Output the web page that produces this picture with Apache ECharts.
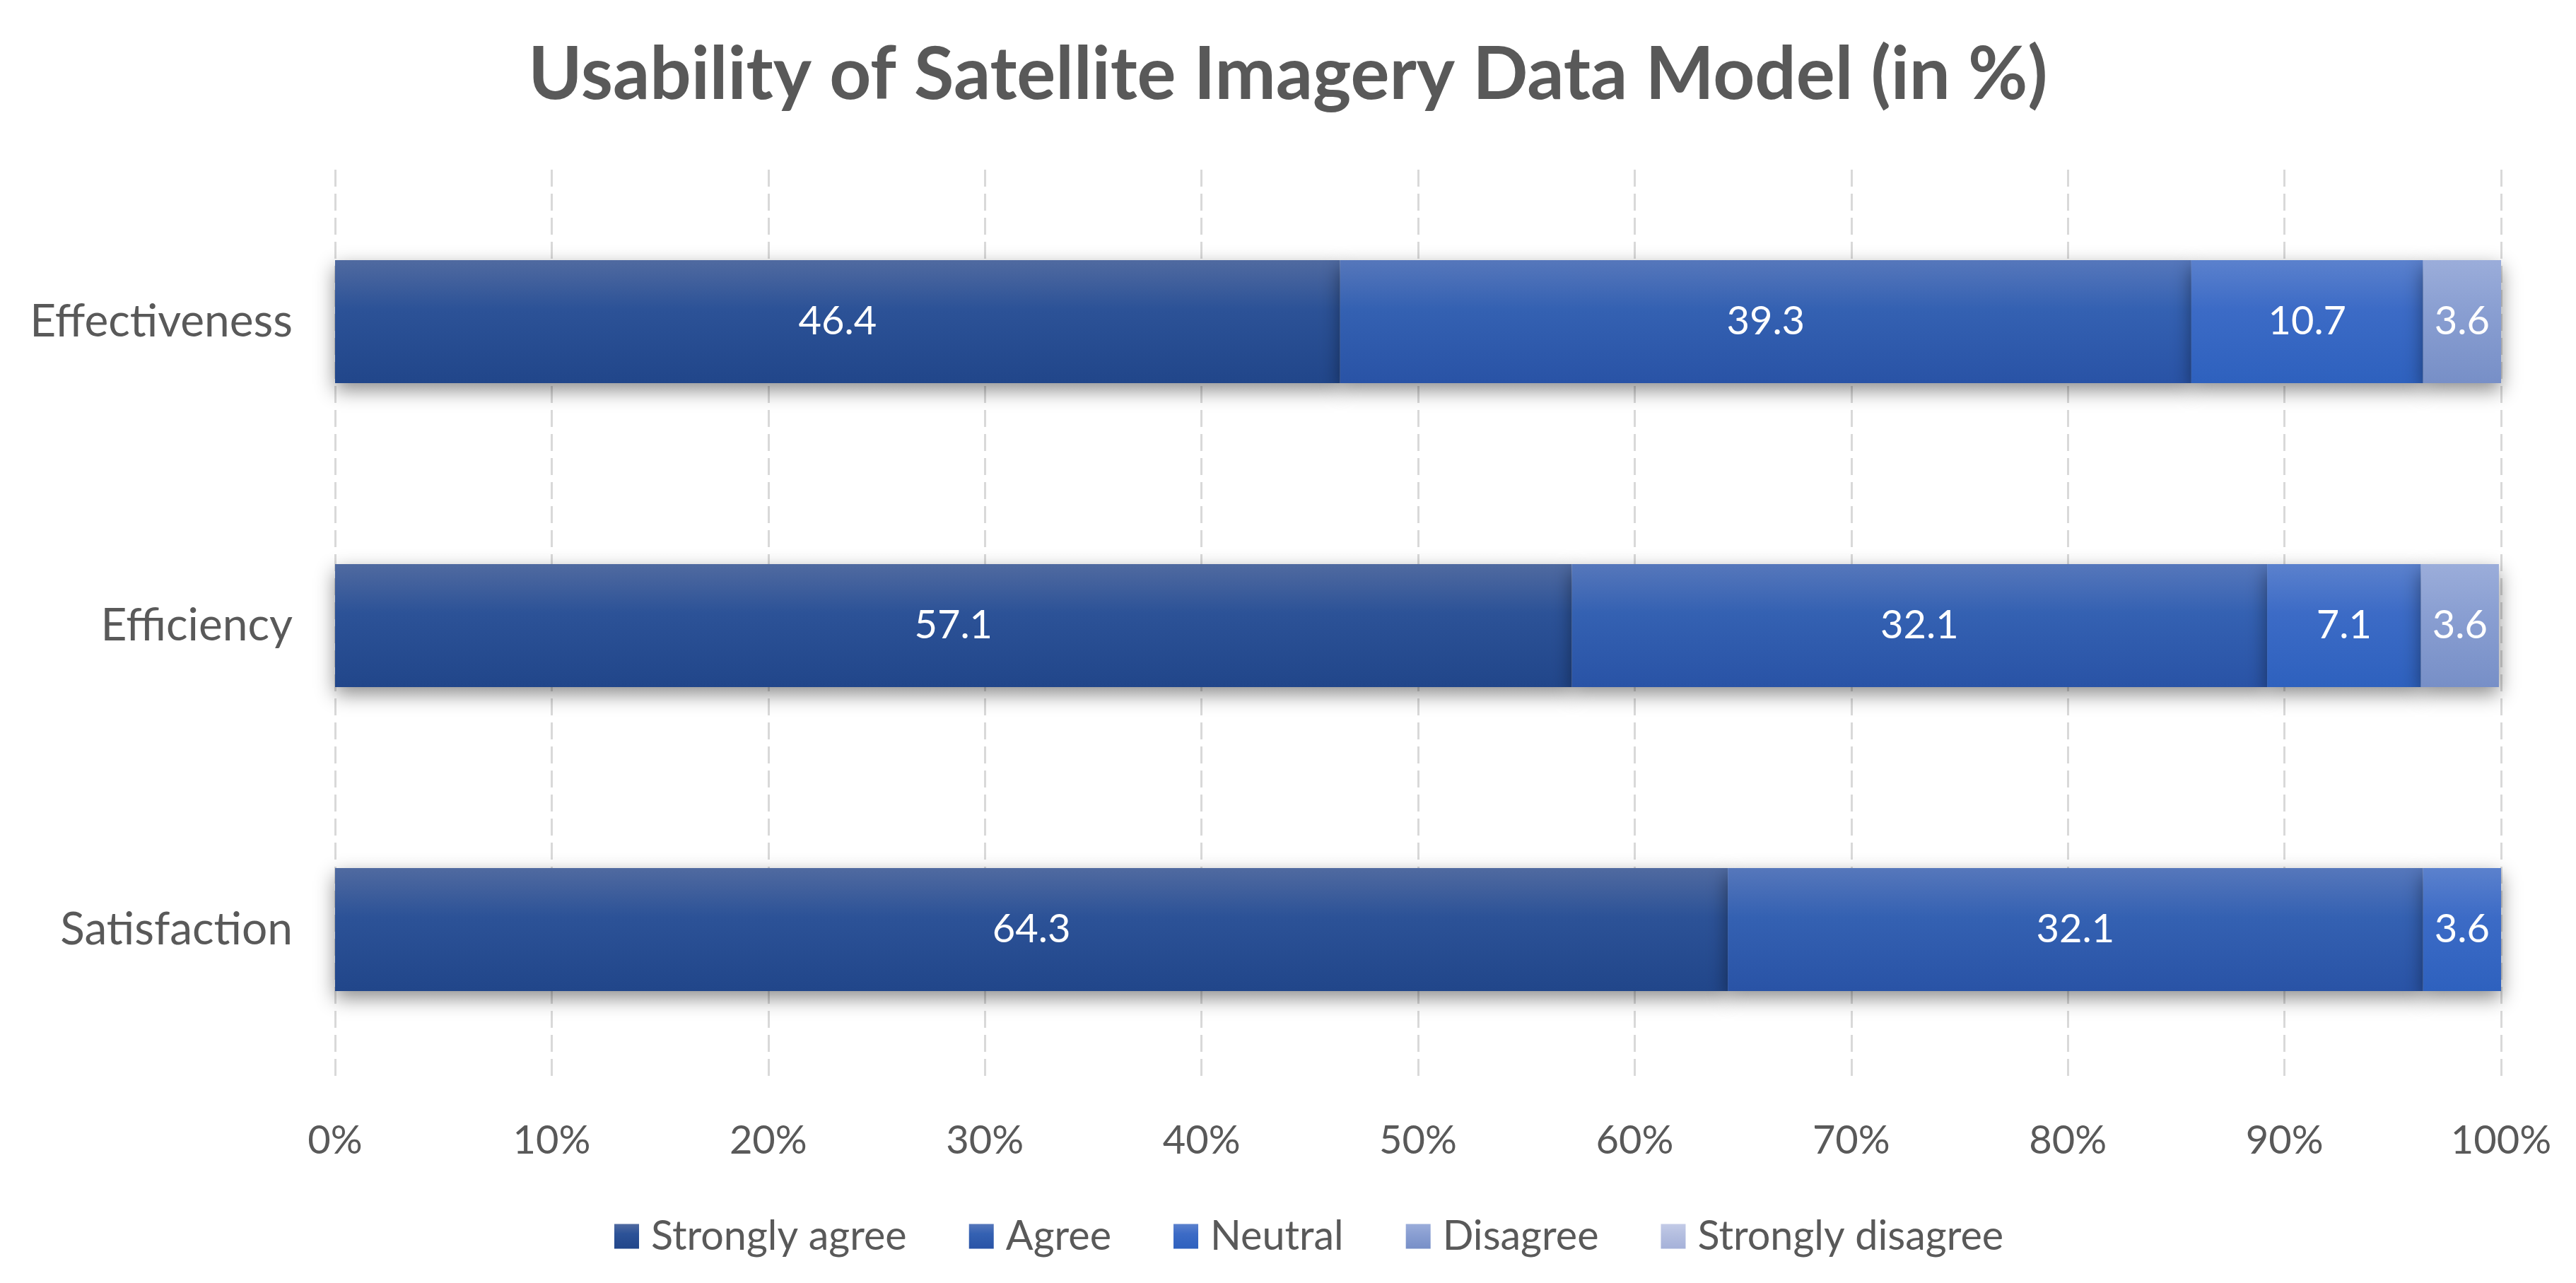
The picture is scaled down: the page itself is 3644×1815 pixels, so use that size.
<!DOCTYPE html>
<html><head><meta charset="utf-8">
<script src="https://cdn.jsdelivr.net/npm/echarts@6/dist/echarts.min.js"></script>
<style>html,body{margin:0;padding:0;background:#fff}#c{width:3644px;height:1815px}</style>
</head><body><div id="c"></div>
<script>
const categories = ['Effectiveness', 'Efficiency', 'Satisfaction'];
const seriesNames = ['Strongly agree', 'Agree', 'Neutral', 'Disagree', 'Strongly disagree'];
const stronglyAgree = [46.4, 57.1, 64.3];
const agree = [39.3, 32.1, 32.1];
const neutral = [10.7, 7.1, 3.6];
const disagree = [3.6, 3.6, 0];
const stronglyDisagree = [0, 0, 0];
const xTicks = [0, 10, 20, 30, 40, 50, 60, 70, 80, 90, 100];

const values = [stronglyAgree, agree, neutral, disagree, stronglyDisagree];
const grads = [
  ['#506aa0', '#2c5297', '#21468a'],
  ['#5677bb', '#3461b2', '#2953a6'],
  ['#5b81cd', '#3c6bc6', '#2e61be'],
  ['#9badda', '#8a9fd2', '#778fc7'],
  ['#c3cbe7', '#b5bfe0', '#a5b1d9']
];
const FONT = 'Lato';
const chart = echarts.init(document.getElementById('c'));
chart.setOption({
  backgroundColor: '#fff',
  animation: false,
  title: {
    text: 'Usability of Satellite Imagery Data Model (in %)',
    left: 'center', top: 50,
    textStyle: { fontFamily: FONT, fontWeight: 'bold', fontSize: 103, color: '#595959' }
  },
  legend: {
    bottom: 32, left: 864,
    itemWidth: 35, itemHeight: 35, itemGap: 88,
    icon: 'rect',
    textStyle: { fontFamily: FONT, fontSize: 57.5, color: '#595959', padding: [0, 0, 0, 12] },
    data: seriesNames
  },
  grid: { left: 474, right: 106, top: 240, bottom: 285, containLabel: false },
  xAxis: {
    type: 'value', min: 0, max: 100, interval: 10,
    axisLine: { show: false }, axisTick: { show: false },
    axisLabel: { formatter: '{value}%', fontFamily: FONT, fontSize: 56, color: '#595959', margin: 56 },
    splitLine: { show: true, lineStyle: { color: '#d9d9d9', width: 3, type: [24, 10] } }
  },
  yAxis: {
    type: 'category', data: categories, inverse: true,
    axisLine: { show: false }, axisTick: { show: false },
    axisLabel: { fontFamily: FONT, fontSize: 64, color: '#595959', margin: 60 }
  },
  series: seriesNames.map((name, i) => ({
    name, type: 'bar', stack: 'total', barWidth: 174,
    data: values[i],
    itemStyle: {
      color: new echarts.graphic.LinearGradient(0, 0, 0, 1, [
        { offset: 0, color: grads[i][0] },
        { offset: 0.4, color: grads[i][1] },
        { offset: 1, color: grads[i][2] }
      ]),
      shadowColor: 'rgba(0,0,0,0.45)', shadowBlur: 26, shadowOffsetY: 10
    },
    label: {
      show: true, position: 'inside', color: '#ffffff',
      fontFamily: FONT, fontSize: 56,
      formatter: p => (p.value > 0 ? p.value.toFixed(1) : '')
    }
  }))
});
</script></body></html>
